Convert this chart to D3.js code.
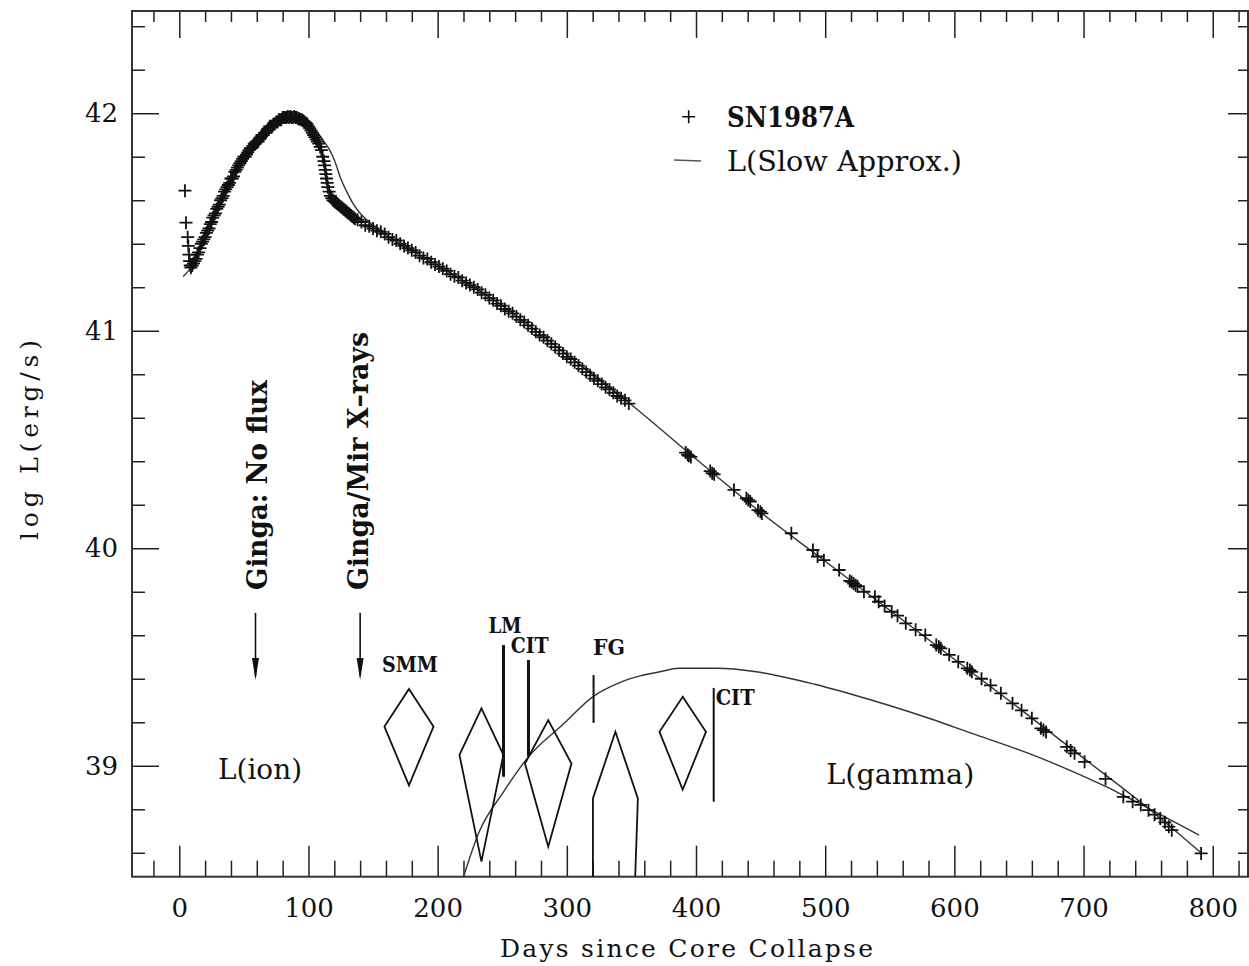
<!DOCTYPE html>
<html>
<head>
<meta charset="utf-8">
<script src="https://cdn.jsdelivr.net/npm/d3@7"></script>
<style>
  body { margin: 0; background: #fff; }
  svg { display: block; }
  .tick text { font-family: "DejaVu Serif", serif; font-size: 26px; fill: #111; }
  .tick line { stroke: #222; stroke-width: 1.5; }
  .domain { display: none; }
</style>
</head>
<body>
<script>
// SN1987A bolometric light curve (day, log L)
var snPoints = [
  [4.4,41.644],[5.2,41.497],[6.5,41.43],[7,41.39],[7.5,41.35],[8,41.32],[8.5,41.30],[9,41.29],
  [10,41.30],[11,41.31],[12,41.32],[13,41.33],[14,41.35],[15,41.36],[16,41.38],[17,41.40],
  [18,41.41],[19,41.42],[20,41.43],[21,41.45],[22,41.46],[23,41.47],[24,41.49],[25,41.50],
  [26,41.52],[27,41.53],[28,41.54],[29,41.56],[30,41.57],[31,41.58],[32,41.60],[33,41.61],
  [34,41.62],[35,41.64],[36,41.65],[37,41.66],[38,41.67],[39,41.68],[40,41.70],[41,41.70],
  [42,41.71],[43,41.73],[44,41.74],[45,41.75],[46,41.76],[47,41.77],[48,41.78],[49,41.79],
  [50,41.80],[51,41.80],[52,41.81],[53,41.82],[54,41.83],[55,41.84],[56,41.84],[57,41.85],
  [58,41.86],[59,41.86],[60,41.87],[61,41.87],[62,41.88],[63,41.89],[64,41.90],[65,41.90],
  [66,41.91],[67,41.91],[68,41.92],[69,41.93],[70,41.94],[71,41.94],[72,41.94],[73,41.95],
  [74,41.95],[75,41.96],[76,41.96],[77,41.97],[78,41.97],[79,41.97],[80,41.98],[81,41.98],
  [82,41.98],[83,41.98],[84,41.985],[85,41.98],[86,41.985],[87,41.98],[88,41.98],[89,41.985],
  [90,41.98],[91,41.98],[92,41.975],[93,41.975],[94,41.97],[95,41.97],[96,41.965],[97,41.96],
  [98,41.955],[99,41.95],[100,41.94],[101,41.93],[102,41.92],[103,41.91],[104,41.90],[105,41.89],
  [106,41.88],[107,41.87],[108,41.86],[109,41.845],[110,41.83],[111,41.80],[112,41.78],[112.5,41.76],
  [113,41.74],[113.5,41.72],[114,41.70],[114.5,41.68],[115,41.66],[116,41.64],[117,41.62],[118,41.61],
  [119,41.60],[120,41.595],[121,41.59],[122,41.585],[123,41.58],[124,41.575],[125,41.57],[126,41.565],
  [127,41.56],[128,41.555],[129,41.55],[130,41.545],[131,41.54],[132,41.535],[133,41.53],[134,41.525],
  [135,41.52],[136,41.515],
  [138,41.51],[141,41.50],[144,41.485],[147,41.48],[150,41.47],[153,41.46],[156,41.455],[159,41.445],
  [162,41.43],[165,41.42],[168,41.415],[171,41.40],[174,41.39],[177,41.38],[180,41.37],[183,41.36],
  [186,41.345],[189,41.335],[192,41.33],[195,41.315],[198,41.305],[201,41.295],[204,41.285],[207,41.275],
  [210,41.26],[213,41.25],[216,41.245],[219,41.23],[222,41.22],[225,41.21],[228,41.20],[231,41.19],
  [234,41.175],[237,41.165],[240,41.15],[243,41.14],[246,41.125],[249,41.115],[252,41.10],[255,41.09],
  [258,41.08],[261,41.065],[264,41.05],[267,41.04],[270,41.025],[273,41.01],[276,40.995],[279,40.98],
  [282,40.97],[285,40.955],[288,40.94],[291,40.925],[294,40.91],[297,40.895],[300,40.88],[303,40.87],
  [306,40.855],[309,40.84],[312,40.825],[315,40.81],[318,40.795],[321,40.78],[324,40.77],[327,40.755],
  [330,40.74],[333,40.73],[336,40.715],[339,40.70],[342,40.69],[345,40.68],[348,40.665],
  [392,40.44],[393.5,40.43],[394.5,40.425],[396,40.42],[411,40.355],[412.5,40.345],[414,40.34],
  [429.4,40.268],[439,40.23],[440.5,40.222],[442,40.215],[448,40.175],[449.8,40.168],[451,40.16],
  [473.8,40.069],[490.5,39.992],[494.1,39.962],[499,39.945],[510.8,39.90],[519,39.85],[520.5,39.845],
  [522,39.838],[523.5,39.83],[525,39.825],[530,39.80],[538.5,39.777],[541.4,39.754],[546,39.735],
  [551.5,39.708],[556,39.69],[562.4,39.655],[570,39.625],[577.5,39.601],[586,39.555],[588,39.547],
  [589.5,39.54],[596,39.51],[603,39.478],[610,39.448],[612,39.44],[613.5,39.432],[621,39.40],
  [628,39.37],[636,39.333],[645,39.287],[652,39.255],[660,39.218],[667,39.172],[669,39.164],
  [671,39.155],[687,39.087],[690,39.07],[693,39.057],[700.8,39.018],[717,38.94],[730.8,38.857],
  [738,38.835],[744.3,38.82],[750.3,38.796],[755,38.775],[759.4,38.758],[763,38.74],[766,38.72],
  [768.3,38.704],[791,38.597]
];

// L(Slow Approx.) model curve
var slowApprox = [
  [3,41.249],[10,41.30],[20,41.44],[30,41.57],[40,41.69],[50,41.79],[60,41.87],[70,41.93],
  [80,41.965],[88,41.98],[96,41.975],[104,41.935],[112,41.87],[116,41.835],[120,41.785],[125,41.70],
  [130,41.635],[135,41.58],[140,41.54],[150,41.485],[160,41.44],[180,41.37],[200,41.30],[250,41.115],
  [300,40.89],[350,40.66],[400,40.41],[450,40.165],[500,39.94],[550,39.715],[600,39.49],[650,39.265],
  [700,39.035],[750,38.805],[791,38.60]
];

// L(gamma) curve
var gammaCurve = [
  [219,38.47],[231.6,38.689],[251,38.88],[270.3,39.041],[298,39.195],[320,39.317],[339.5,39.379],
  [356.6,39.413],[372,39.432],[386.6,39.448],[416.7,39.448],[446.7,39.432],[491.9,39.375],
  [536.9,39.30],[582,39.215],[612,39.152],[657,39.058],[687.2,38.985],[717,38.905],[732,38.86],
  [789.4,38.681]
];

// gamma-ray measurements drawn as diamonds: [day, half width (days), top, middle, bottom]
var diamonds = [
  [177.8, 19, 39.353, 39.18, 38.91],
  [233.9, 17, 39.264, 39.05, 38.559],
  [285.6, 18, 39.21, 39.01, 38.628],
  [337.6, 17.4, 39.156, 38.85, null],
  [389.7, 18, 39.317, 39.156, 38.891]
];

// vertical marks: [day, top, bottom, width]
var instrumentLines = [
  [251, 39.555, 38.95, 3],
  [270.3, 39.486, 39.042, 3],
  [320.7, 39.417, 39.197, 2],
  [413.7, 39.358, 38.835, 2]
];

// upper limit arrows: [day, start, tip]
var arrows = [
  [59, 39.703, 39.394],
  [140, 39.703, 39.394]
];

// text labels: [text, day, logL, width in px, bold, vertical]
var labels = [
  ["Ginga: No flux", 67.7, 39.808, 210, true, true],
  ["Ginga/Mir X\u2013rays", 146.3, 39.808, 258, true, true],
  ["SMM", 156.9, 39.431, 56, true, false],
  ["LM", 239.4, 39.611, 33, true, false],
  ["CIT", 256.5, 39.519, 38, true, false],
  ["FG", 320.2, 39.509, 32, true, false],
  ["CIT", 415.2, 39.279, 39, true, false],
  ["L(ion)", 30, 38.939, 84, false, false],
  ["L(gamma)", 500.9, 38.916, 148, false, false]
];

var xTicks = [0, 100, 200, 300, 400, 500, 600, 700, 800];
var yTicks = [39, 40, 41, 42];
var xMinor = d3.range(-20, 821, 20).filter(function (d) { return d % 100 !== 0; });
var yMinor = d3.range(38.6, 42.45, 0.2).filter(function (d) {
  return Math.abs(d - Math.round(d)) > 0.01;
});

var W = 1249, H = 966;
var plotLeft = 132, plotRight = 1248, plotTop = 11, plotBottom = 876.7;

var svg = d3.select("body").append("svg")
  .attr("width", W)
  .attr("height", H);

var x = d3.scaleLinear().domain([-36.6, 827.3]).range([plotLeft, plotRight]);
var y = d3.scaleLinear().domain([38.49, 42.47]).range([plotBottom, plotTop]);

svg.append("clipPath").attr("id", "plot")
  .append("rect")
  .attr("x", plotLeft).attr("y", plotTop)
  .attr("width", plotRight - plotLeft).attr("height", plotBottom - plotTop);

// axes on all four sides
function addAxis(axis, tx, ty) {
  svg.append("g").attr("transform", "translate(" + tx + "," + ty + ")").call(axis);
}
addAxis(d3.axisBottom(x).tickValues(xTicks).tickSize(-31).tickPadding(22).tickFormat(d3.format("d")), 0, plotBottom);
addAxis(d3.axisBottom(x).tickValues(xMinor).tickSize(-16).tickFormat(""), 0, plotBottom);
addAxis(d3.axisTop(x).tickValues(xTicks).tickSize(-27).tickFormat(""), 0, plotTop);
addAxis(d3.axisTop(x).tickValues(xMinor).tickSize(-11).tickFormat(""), 0, plotTop);
addAxis(d3.axisLeft(y).tickValues(yTicks).tickSize(-27).tickPadding(14).tickFormat(d3.format("d")), plotLeft, 0);
addAxis(d3.axisLeft(y).tickValues(yMinor).tickSize(-13).tickFormat(""), plotLeft, 0);
addAxis(d3.axisRight(y).tickValues(yTicks).tickSize(-20).tickFormat(""), plotRight, 0);
addAxis(d3.axisRight(y).tickValues(yMinor).tickSize(-10).tickFormat(""), plotRight, 0);

svg.append("rect")
  .attr("x", plotLeft).attr("y", plotTop)
  .attr("width", plotRight - plotLeft).attr("height", plotBottom - plotTop)
  .attr("fill", "none")
  .attr("stroke", "#333")
  .attr("stroke-width", 2);

var g = svg.append("g").attr("clip-path", "url(#plot)");

var line = d3.line()
  .x(function (d) { return x(d[0]); })
  .y(function (d) { return y(d[1]); })
  .curve(d3.curveMonotoneX);

g.append("path")
  .attr("d", line(slowApprox))
  .attr("fill", "none")
  .attr("stroke", "#333")
  .attr("stroke-width", 1.4);

g.append("path")
  .attr("d", line(gammaCurve))
  .attr("fill", "none")
  .attr("stroke", "#333")
  .attr("stroke-width", 1.4);

g.selectAll(".pt")
  .data(snPoints)
  .enter().append("path")
  .attr("class", "pt")
  .attr("transform", function (d) { return "translate(" + x(d[0]) + "," + y(d[1]) + ")"; })
  .attr("d", "M-6.5,0H6.5M0,-6.5V6.5")
  .attr("stroke", "#111")
  .attr("stroke-width", 1.8);

g.selectAll(".diamond")
  .data(diamonds)
  .enter().append("path")
  .attr("class", "diamond")
  .attr("d", function (d) {
    if (d[4] === null) {
      // lower edge runs off the bottom of the plot
      var lowY = plotBottom + 20;
      return "M" + x(d[0] - d[1]) + "," + lowY + "L" + x(d[0] - d[1]) + "," + y(d[3]) +
        "L" + x(d[0]) + "," + y(d[2]) + "L" + x(d[0] + d[1]) + "," + y(d[3]) +
        "L" + x(d[0] + d[1] * 0.85) + "," + lowY;
    }
    return "M" + x(d[0]) + "," + y(d[2]) + "L" + x(d[0] + d[1]) + "," + y(d[3]) +
      "L" + x(d[0]) + "," + y(d[4]) + "L" + x(d[0] - d[1]) + "," + y(d[3]) + "Z";
  })
  .attr("fill", "none")
  .attr("stroke", "#111")
  .attr("stroke-width", 1.8);

g.selectAll(".inst")
  .data(instrumentLines)
  .enter().append("line")
  .attr("class", "inst")
  .attr("x1", function (d) { return x(d[0]); })
  .attr("x2", function (d) { return x(d[0]); })
  .attr("y1", function (d) { return y(d[1]); })
  .attr("y2", function (d) { return y(d[2]); })
  .attr("stroke", "#111")
  .attr("stroke-width", function (d) { return d[3]; });

arrows.forEach(function (a) {
  var ax = x(a[0]), tip = y(a[2]);
  g.append("line")
    .attr("x1", ax).attr("x2", ax)
    .attr("y1", y(a[1])).attr("y2", tip - 4)
    .attr("stroke", "#111").attr("stroke-width", 1.6);
  g.append("path")
    .attr("d", "M" + ax + "," + tip + "L" + (ax - 3.5) + "," + (tip - 22) + "L" + (ax + 3.5) + "," + (tip - 22) + "Z")
    .attr("fill", "#111");
});

labels.forEach(function (l) {
  var t = svg.append("text")
    .attr("font-family", "DejaVu Serif, serif")
    .attr("font-size", l[4] ? (l[5] ? 27 : 23) : 28)
    .attr("font-weight", l[4] ? "bold" : "normal")
    .attr("fill", "#111")
    .attr("textLength", l[3])
    .attr("lengthAdjust", "spacingAndGlyphs")
    .text(l[0]);
  if (l[5]) {
    t.attr("transform", "translate(" + x(l[1]) + "," + y(l[2]) + ") rotate(-90)");
  } else {
    t.attr("x", x(l[1])).attr("y", y(l[2]));
  }
});

// legend
svg.append("path")
  .attr("transform", "translate(688.7,116.7)")
  .attr("d", "M-6.5,0H6.5M0,-6.5V6.5")
  .attr("stroke", "#111")
  .attr("stroke-width", 1.6);
svg.append("text")
  .attr("x", 727).attr("y", 127)
  .attr("font-family", "DejaVu Serif, serif")
  .attr("font-size", 28)
  .attr("font-weight", "bold")
  .attr("fill", "#111")
  .attr("textLength", 127)
  .attr("lengthAdjust", "spacingAndGlyphs")
  .text("SN1987A");
svg.append("line")
  .attr("x1", 674).attr("x2", 701).attr("y1", 160).attr("y2", 161)
  .attr("stroke", "#555").attr("stroke-width", 1.4);
svg.append("text")
  .attr("x", 727).attr("y", 171)
  .attr("font-family", "DejaVu Serif, serif")
  .attr("font-size", 27)
  .attr("fill", "#111")
  .attr("textLength", 235)
  .attr("lengthAdjust", "spacingAndGlyphs")
  .text("L(Slow Approx.)");

// axis titles
svg.append("text")
  .attr("x", 500).attr("y", 957)
  .attr("font-family", "DejaVu Serif, serif")
  .attr("font-size", 25)
  .attr("fill", "#111")
  .attr("textLength", 373)
  .attr("lengthAdjust", "spacing")
  .text("Days since Core Collapse");
svg.append("text")
  .attr("transform", "translate(38,540) rotate(-90)")
  .attr("font-family", "DejaVu Serif, serif")
  .attr("font-size", 25)
  .attr("fill", "#111")
  .attr("textLength", 200)
  .attr("lengthAdjust", "spacing")
  .text("log L(erg/s)");
</script>
</body>
</html>
